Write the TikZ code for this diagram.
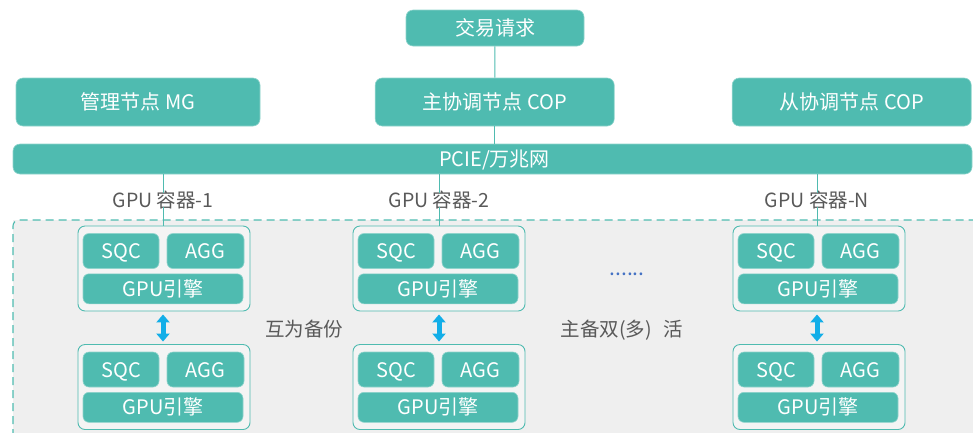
\documentclass[tikz,border=0pt]{standalone}
\usepackage{fontspec}
\setmainfont{Noto Sans CJK SC}
\usetikzlibrary{arrows.meta,calc}
\definecolor{teal1}{HTML}{4FBBB0}
\definecolor{tealedge}{HTML}{8FD4CC}
\definecolor{bggray}{HTML}{EFEFEF}
\definecolor{txtgray}{HTML}{595959}
\definecolor{arrowblue}{HTML}{12AEE8}
\definecolor{dotblue}{HTML}{4472C4}
\tikzset{
  txt/.style={inner sep=0pt, text height=15pt, text depth=0pt},
  tbox/.style={txt, fill=teal1, draw=tealedge, line width=0.6pt, rounded corners=7pt,
    text=white, font=\fontsize{20}{24}\selectfont},
  ibox/.style={txt, fill=teal1, draw=tealedge, line width=0.6pt, rounded corners=6pt,
    text=white, font=\fontsize{20}{24}\selectfont},
  grp/.style={fill=bggray!70!white, draw=teal1, line width=0.9pt, rounded corners=7pt,
    minimum width=172pt, minimum height=85pt, inner sep=0pt},
  lbl/.style={txt, text=txtgray, font=\fontsize{19.5}{23}\selectfont},
  conn/.style={draw=teal1, line width=0.9pt},
  dblarrow/.style={draw=arrowblue, line width=5pt,
    {Triangle[width=13pt,length=8pt]}-{Triangle[width=13pt,length=8pt]}},
}
% one GPU container: outer frame with SQC, AGG and the GPU engine inside
\newcommand\gpugroup[3]{%
  \node[grp] (#1) at (#2,#3) {};
  \node[ibox, minimum width=76pt, minimum height=35pt]
    (#1-sqc) at ([shift={(-43,-17.5)}] #2,#3) {SQC};
  \node[ibox, minimum width=77pt, minimum height=35pt]
    (#1-agg) at ([shift={(41.5,-17.5)}] #2,#3) {AGG};
  \node[ibox, minimum width=160pt, minimum height=30pt]
    (#1-gpu) at ([shift={(-1,20.3)}] #2,#3) {GPU引擎};
}
\begin{document}
\begin{tikzpicture}[x=1pt, y=-1pt]
\useasboundingbox (0,0) rectangle (973,432);
\clip (0,0) rectangle (973,432);

% top layer
\node[tbox, minimum width=178pt, minimum height=36pt] (req) at (495,28) {交易请求};
\node[tbox, minimum width=244pt, minimum height=48pt] (mg) at (138,102) {管理节点 MG};
\node[tbox, minimum width=239pt, minimum height=48pt] (cop) at (494.7,102) {主协调节点 COP};
\node[tbox, minimum width=239pt, minimum height=48pt] (scop) at (851.7,102) {从协调节点 COP};
\node[tbox, minimum width=959pt, minimum height=30pt] (bus) at (492.5,159) {};
\node[txt, text=white, font=\fontsize{20}{24}\selectfont] (bustext) at (494.5,159) {PCIE/万兆网};

\draw[conn] (req) -- (cop);
\draw[conn] (cop.south) -- (cop.south |- bus.north);

% container area
\fill[bggray] (13,220) rectangle (990,450);
\draw[draw=teal1, line width=1.1pt, dash pattern=on 8pt off 5pt, rounded corners=6pt]
  (13,450) -- (13,220) -- (990,220);

% container labels
\node[lbl] (l1) at (163,200) {GPU 容器-1};
\node[lbl] (l2) at (439,200) {GPU 容器-2};
\node[lbl] (ln) at (817,200) {GPU 容器-N};

% containers
\gpugroup{g1a}{164}{268.5}
\gpugroup{g1b}{164}{387}
\gpugroup{g2a}{439}{268.5}
\gpugroup{g2b}{439}{387}
\gpugroup{gna}{819}{268.5}
\gpugroup{gnb}{819}{387}

% bus to containers
\draw[conn] (bus.south -| l1.north) -- ([yshift=-1pt]l1.north);
\draw[conn] ([yshift=1pt]l1.south) -- (l1.south |- g1a.north);
\draw[conn] (bus.south -| l2.north) -- ([yshift=-1pt]l2.north);
\draw[conn] ([yshift=1pt]l2.south) -- (l2.south |- g2a.north);
\draw[conn] (bus.south -| ln.north) -- ([yshift=-1pt]ln.north);
\draw[conn] ([yshift=1pt]ln.south) -- (ln.south |- gna.north);

% standby pairs
\draw[dblarrow, shorten <=3pt, shorten >=2.5pt] (g1a.south -| l1) -- (g1b.north -| l1);
\draw[dblarrow, shorten <=3pt, shorten >=2.5pt] (g2a.south) -- (g2b.north);
\draw[dblarrow, shorten <=3pt, shorten >=2.5pt] (gna.south -| ln) -- (gnb.north -| ln);

% annotations
\node[lbl] (backup) at (304,329) {互为备份};
\node[lbl] (active) at (622,329) {主备双(多)\hspace{0.6em}活};
\node[text=dotblue, inner sep=0pt, anchor=base, font=\fontsize{21}{24}\selectfont]
  (dots) at (627,275) {......};
\end{tikzpicture}
\end{document}
